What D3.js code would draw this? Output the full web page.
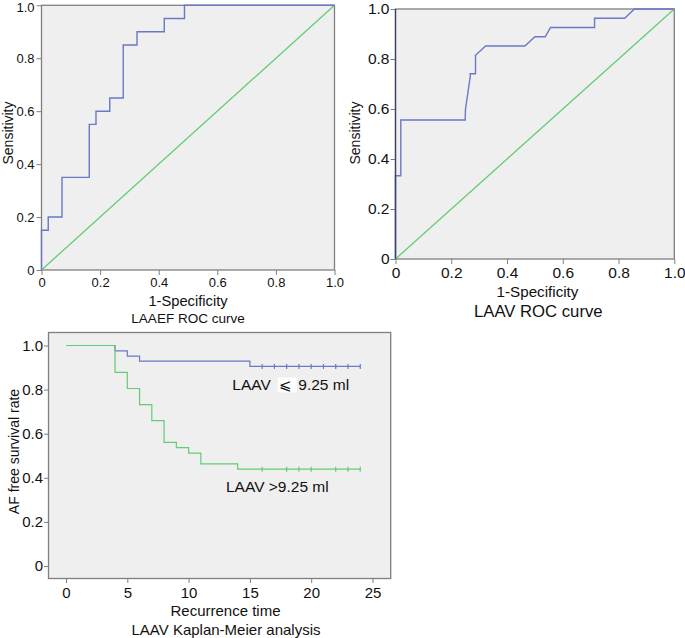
<!DOCTYPE html>
<html>
<head>
<meta charset="utf-8">
<script src="https://cdn.jsdelivr.net/npm/d3@7"></script>
<style>
  html, body { margin: 0; padding: 0; background: #ffffff; }
  svg { display: block; font-family: "Liberation Sans", Arial, sans-serif; }
</style>
</head>
<body>
<svg id="chart" width="685" height="638"></svg>
<script>
// ---------- data ----------
// LAAEF ROC (step-after vertices)
const laaefFpr = [0, 0, 0.023, 0.070, 0.163, 0.186, 0.233, 0.279, 0.326, 0.419, 0.488, 1];
const laaefTpr = [0, 0.15, 0.20, 0.35, 0.55, 0.60, 0.65, 0.85, 0.90, 0.95, 1.0, 1.0];
// LAAV ROC (polyline vertices)
const laavFpr = [0, 0, 0.019, 0.019, 0.250, 0.251, 0.268, 0.268, 0.287, 0.287, 0.323, 0.464, 0.500, 0.537, 0.556, 0.714, 0.714, 0.822, 0.857, 1];
const laavTpr = [0, 0.333, 0.333, 0.556, 0.556, 0.599, 0.729, 0.741, 0.741, 0.815, 0.852, 0.852, 0.889, 0.889, 0.926, 0.926, 0.963, 0.963, 1, 1];
const rocTicks = [0, 0.2, 0.4, 0.6, 0.8, 1.0];

// Kaplan-Meier
const lowTime = [0, 4, 5, 6, 15, 24];
const lowSurv = [1, 0.976, 0.952, 0.929, 0.905, 0.905];
const lowCensor = [16, 17, 18, 19, 20, 21, 22, 23, 24];
const highTime = [0, 4, 5, 6, 7, 8, 9, 10, 11, 14, 24];
const highSurv = [1, 0.878, 0.805, 0.732, 0.659, 0.561, 0.537, 0.512, 0.463, 0.439, 0.439];
const highCensor = [16, 18, 19, 20, 22, 23, 24];
const kmXTicks = [0, 5, 10, 15, 20, 25];
const kmYTicks = [0, 0.2, 0.4, 0.6, 0.8, 1.0];
const lowLabel = ["LAAV ", "\u2A7D", " 9.25 ml"];
const highLabel = "LAAV >9.25 ml";

// ---------- styles ----------
const BG = "#efefef";
const FRAME = "#7f7f7f";
const BLUE = "#6a78c6";
const GREEN = "#62cc74";
const fmt = d => d === 0 ? "0" : d3.format(".1f")(d);

const svg = d3.select("#chart");

function panel(o) {
  const g = svg.append("g");
  const x = d3.scaleLinear().domain(o.xDomain).range([o.xr0, o.xr1]);
  const y = d3.scaleLinear().domain(o.yDomain).range([o.y0, o.y1]);
  g.append("rect")
    .attr("x", o.left).attr("y", o.top)
    .attr("width", o.right - o.left).attr("height", o.bottom - o.top)
    .attr("fill", BG).attr("stroke", "none");

  const xa = g.append("g").attr("transform", `translate(0,${o.bottom})`)
    .call(d3.axisBottom(x).tickValues(o.xTicks).tickFormat(o.xfmt).tickSize(o.tick).tickPadding(o.xPad));
  const ya = g.append("g").attr("transform", `translate(${o.left},0)`)
    .call(d3.axisLeft(y).tickValues(o.yTicks).tickFormat(o.fmt).tickSize(o.tick).tickPadding(o.yPad));
  [xa, ya].forEach(a => {
    a.select(".domain").remove();
    a.selectAll(".tick line").attr("stroke", FRAME).attr("stroke-width", 1);
    a.selectAll(".tick text").attr("fill", "#111").style("font-size", o.tickFont + "px")
      .style("font-family", '"Liberation Sans", Arial, sans-serif');
  });
  g.append("rect")
    .attr("x", o.left).attr("y", o.top)
    .attr("width", o.right - o.left).attr("height", o.bottom - o.top)
    .attr("fill", "none").attr("stroke", FRAME).attr("stroke-width", 1.3);
  return { g, x, y, ya };
}

// ---------- Panel 1: LAAEF ROC ----------
{
  const p = panel({ left: 41.5, right: 334.5, top: 5.3, bottom: 270, y0: 270, y1: 5.3, xr0: 41.5, xr1: 334.5,
    xDomain: [0, 1], yDomain: [0, 1], xTicks: rocTicks, yTicks: rocTicks, fmt, xfmt: fmt,
    tick: 5, xPad: 3, yPad: 2, tickFont: 13 });
  // keep the top label inside the picture
  p.ya.selectAll(".tick text").filter(d => d === 1).attr("dy", "0.45em");
  p.g.append("line")
    .attr("x1", p.x(0)).attr("y1", p.y(0)).attr("x2", p.x(1)).attr("y2", p.y(1))
    .attr("stroke", GREEN).attr("stroke-width", 1.3);
  const pts = laaefFpr.map((f, i) => [f, laaefTpr[i]]);
  p.g.append("path")
    .attr("d", d3.line().x(d => p.x(d[0])).y(d => p.y(d[1])).curve(d3.curveStepAfter)(pts))
    .attr("fill", "none").attr("stroke", BLUE).attr("stroke-width", 1.4);
  p.g.append("text").attr("x", 188).attr("y", 306).attr("text-anchor", "middle")
    .style("font-size", "14.7px").attr("fill", "#111").text("1-Specificity");
  p.g.append("text").attr("x", 188).attr("y", 322.5).attr("text-anchor", "middle")
    .style("font-size", "13.5px").attr("fill", "#111").text("LAAEF ROC curve");
  p.g.append("text").attr("transform", "translate(12.5,133) rotate(-90)").attr("text-anchor", "middle")
    .style("font-size", "14px").attr("fill", "#111").text("Sensitivity");
}

// ---------- Panel 2: LAAV ROC ----------
{
  const p = panel({ left: 395.5, right: 674.3, top: 9, bottom: 259, y0: 259, y1: 9, xr0: 395.5, xr1: 674.3,
    xDomain: [0, 1], yDomain: [0, 1], xTicks: rocTicks, yTicks: rocTicks, fmt, xfmt: fmt,
    tick: 5, xPad: 3, yPad: 1, tickFont: 15.5 });
  p.g.append("line")
    .attr("x1", p.x(0)).attr("y1", p.y(0)).attr("x2", p.x(1)).attr("y2", p.y(1))
    .attr("stroke", GREEN).attr("stroke-width", 1.3);
  const pts = laavFpr.map((f, i) => [f, laavTpr[i]]);
  p.g.append("path")
    .attr("d", d3.line().x(d => p.x(d[0])).y(d => p.y(d[1]))(pts))
    .attr("fill", "none").attr("stroke", BLUE).attr("stroke-width", 1.4);
  p.g.append("line").attr("x1", 395.5).attr("x2", 395.5).attr("y1", 9).attr("y2", 259)
    .attr("stroke", "#3a3f6e").attr("stroke-width", 1.3);
  p.g.append("text").attr("x", 537.5).attr("y", 297).attr("text-anchor", "middle")
    .style("font-size", "15.2px").attr("fill", "#111").text("1-Specificity");
  p.g.append("text").attr("x", 538.3).attr("y", 316.5).attr("text-anchor", "middle")
    .style("font-size", "16.7px").attr("fill", "#111").text("LAAV ROC curve");
  p.g.append("text").attr("transform", "translate(360,133) rotate(-90)").attr("text-anchor", "middle")
    .style("font-size", "14px").attr("fill", "#111").text("Sensitivity");
}

// ---------- Panel 3: Kaplan-Meier ----------
{
  const p = panel({ left: 48.5, right: 390.7, top: 332.5, bottom: 578.5, y0: 566, y1: 345.5, xr0: 66, xr1: 372.5,
    xDomain: [0, 25], yDomain: [0, 1], xTicks: kmXTicks, yTicks: kmYTicks, fmt, xfmt: d3.format("d"),
    tick: 4.5, xPad: 4, yPad: 1, tickFont: 15 });

  const line = d3.line().x(d => p.x(d[0])).y(d => p.y(d[1])).curve(d3.curveStepAfter);
  const lowPts = lowTime.map((t, i) => [t, lowSurv[i]]);
  const highPts = highTime.map((t, i) => [t, highSurv[i]]);
  p.g.append("path").attr("d", line(lowPts)).attr("fill", "none").attr("stroke", BLUE).attr("stroke-width", 1.2);
  p.g.append("path").attr("d", line(highPts)).attr("fill", "none").attr("stroke", GREEN).attr("stroke-width", 1.2);

  const survAt = (times, survs, t) => { let s = survs[0]; times.forEach((tt, i) => { if (tt <= t) s = survs[i]; }); return s; };
  p.g.selectAll(".cl").data(lowCensor).join("line")
    .attr("x1", d => p.x(d)).attr("x2", d => p.x(d))
    .attr("y1", d => p.y(survAt(lowTime, lowSurv, d)) - 2.5).attr("y2", d => p.y(survAt(lowTime, lowSurv, d)) + 2.5)
    .attr("stroke", BLUE).attr("stroke-width", 1.2);
  p.g.selectAll(".ch").data(highCensor).join("line")
    .attr("x1", d => p.x(d)).attr("x2", d => p.x(d))
    .attr("y1", d => p.y(survAt(highTime, highSurv, d)) - 2.5).attr("y2", d => p.y(survAt(highTime, highSurv, d)) + 2.5)
    .attr("stroke", GREEN).attr("stroke-width", 1.2);

  // labels
  p.g.append("rect").attr("x", 277.7).attr("y", 377.5).attr("width", 19).attr("height", 15).attr("fill", "#ffffff");
  const t1 = p.g.append("text").attr("x", 232.3).attr("y", 389.5).style("font-size", "15.5px").attr("fill", "#111");
  t1.append("tspan").text(lowLabel[0]);
  t1.append("tspan").attr("x", 279).style("font-family", '"DejaVu Sans", sans-serif').style("font-size", "15px").text(lowLabel[1]);
  t1.append("tspan").attr("x", 294).text(lowLabel[2]);
  p.g.append("text").attr("x", 226).attr("y", 491.5).style("font-size", "15.5px").attr("fill", "#111").text(highLabel);

  p.g.append("text").attr("x", 225.5).attr("y", 615.5).attr("text-anchor", "middle")
    .style("font-size", "15px").attr("fill", "#111").text("Recurrence time");
  p.g.append("text").attr("x", 226).attr("y", 635).attr("text-anchor", "middle")
    .style("font-size", "15px").attr("fill", "#111").text("LAAV Kaplan-Meier analysis");
  p.g.append("text").attr("transform", "translate(19,451.5) rotate(-90)").attr("text-anchor", "middle")
    .style("font-size", "14px").attr("fill", "#111").text("AF free survival rate");
}
</script>
</body>
</html>
